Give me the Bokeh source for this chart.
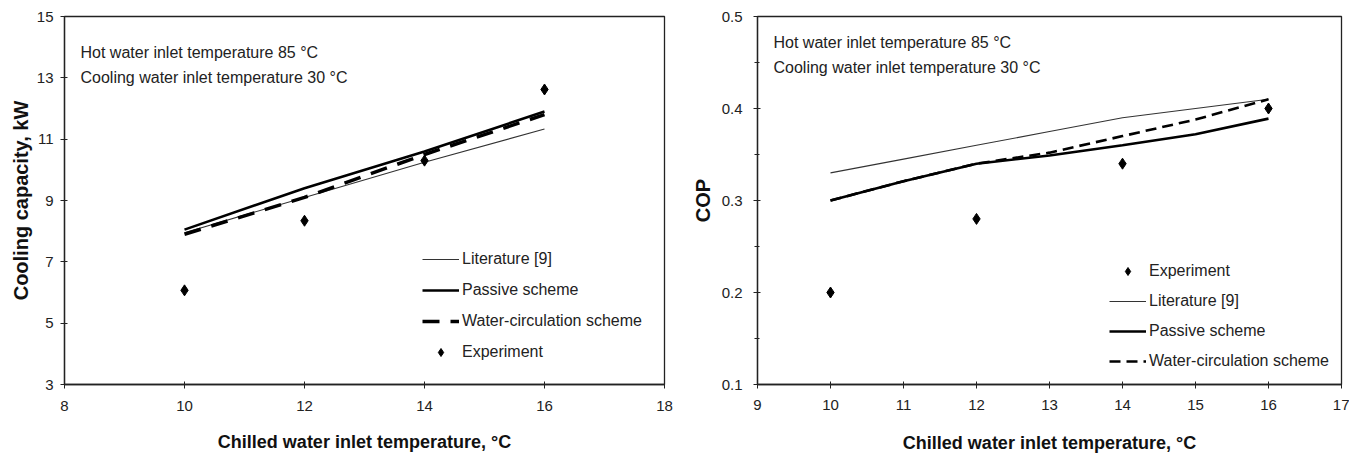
from bokeh.plotting import figure
from bokeh.layouts import row
from bokeh.models import (Range1d, FixedTicker, Legend, LegendItem, Label)
from bokeh.embed import file_html
from bokeh.resources import INLINE

# ---------------- data: cooling capacity ----------------
t_cap = [10, 12, 14, 16]
cap_literature = [7.95, 9.1, 10.25, 11.33]
cap_passive = [8.05, 9.4, 10.6, 11.9]
cap_water = [7.9, 9.1, 10.5, 11.8]
cap_experiment = [6.07, 8.34, 10.3, 12.62]
cap_xticks = [8, 10, 12, 14, 16, 18]
cap_yticks = [3, 5, 7, 9, 11, 13, 15]

# ---------------- data: COP ----------------
t_cop = [10, 11, 12, 13, 14, 15, 16]
cop_literature = [0.33, 0.345, 0.36, 0.375, 0.39, 0.40, 0.41]
cop_passive = [0.30, 0.321, 0.34, 0.349, 0.36, 0.372, 0.389]
cop_water = [0.30, 0.321, 0.34, 0.352, 0.37, 0.388, 0.41]
t_exp = [10, 12, 14, 16]
cop_experiment = [0.20, 0.28, 0.34, 0.40]
cop_xticks = [9, 10, 11, 12, 13, 14, 15, 16, 17]
cop_yticks = [0.1, 0.2, 0.3, 0.4, 0.5]
cop_yminor = [0.15, 0.25, 0.35, 0.45]

FONT = "Liberation Sans"
note1 = "Hot water inlet temperature 85 °C"
note2 = "Cooling water inlet temperature 30 °C"
xlabel = "Chilled water inlet temperature, °C"


def style(p, xt, yt, ym, tick_std_x, tick_std_y, xlab_std, ylab_std):
    p.grid.visible = False
    p.outline_line_color = "#222222"
    p.outline_line_width = 1.3
    p.background_fill_color = "white"
    p.border_fill_color = "white"
    p.xaxis.ticker = FixedTicker(ticks=xt)
    p.yaxis.ticker = FixedTicker(ticks=yt, minor_ticks=ym)
    for ax in (p.xaxis[0], p.yaxis[0]):
        ax.axis_line_color = "#222222"
        ax.axis_line_width = 1.3
        ax.major_tick_line_color = "#222222"
        ax.minor_tick_line_color = "#222222"
        ax.major_tick_in = 3
        ax.major_tick_out = 4
        ax.minor_tick_in = 2
        ax.minor_tick_out = 3
        ax.major_label_text_font = FONT
        ax.major_label_text_font_size = "15px"
        ax.major_label_text_color = "#222222"
        ax.axis_label_text_font = FONT
        ax.axis_label_text_font_style = "bold"
        ax.axis_label_text_color = "#111111"
    p.xaxis.major_label_standoff = tick_std_x
    p.yaxis.major_label_standoff = tick_std_y
    p.xaxis.axis_label_standoff = xlab_std
    p.yaxis.axis_label_standoff = ylab_std
    p.xaxis.axis_label_text_font_size = "18px"
    p.yaxis.axis_label_text_font_size = "20px"


def notes(p, x, y1, y2):
    for txt, yy in ((note1, y1), (note2, y2)):
        p.add_layout(Label(x=x, y=yy, x_units="screen", y_units="screen", text=txt,
                           text_font=FONT, text_font_size="16px", text_color="#222222",
                           text_baseline="middle"))


def legend(p, items, loc, spacing):
    lg = Legend(items=items, location=loc, orientation="vertical")
    lg.label_text_font = FONT
    lg.label_text_font_size = "16px"
    lg.label_text_color = "#222222"
    lg.glyph_width = 37
    lg.glyph_height = 20
    lg.label_height = 20
    lg.label_standoff = 3
    lg.spacing = spacing
    lg.padding = 0
    lg.margin = 0
    lg.border_line_color = None
    lg.background_fill_alpha = 0
    p.add_layout(lg, "center")


# ---------------- left chart ----------------
p1 = figure(width=688, height=456, output_backend="svg", toolbar_location=None,
            x_range=Range1d(8, 18), y_range=Range1d(3, 15),
            min_border_left=64, min_border_right=24, min_border_top=16, min_border_bottom=72)
p1.xaxis.axis_label = xlabel
p1.yaxis.axis_label = "Cooling capacity, kW"
style(p1, cap_xticks, cap_yticks, [], 12, 7, 18, 2)

r_lit = p1.line(t_cap, cap_literature, line_color="#333333", line_width=1.1)
r_pas = p1.line(t_cap, cap_passive, line_color="black", line_width=2.6)
r_wat = p1.line(t_cap, cap_water, line_color="black", line_width=3.5, line_dash="17 11")
r_exp = p1.scatter(t_cap, cap_experiment, marker="diamond", size=11, color="black")
legend(p1, [LegendItem(label="Literature [9]", renderers=[r_lit]),
            LegendItem(label="Passive scheme", renderers=[r_pas]),
            LegendItem(label="Water-circulation scheme", renderers=[r_wat]),
            LegendItem(label="Experiment", renderers=[r_exp])], (358, 22), 11)
notes(p1, 16, 332, 307)

# ---------------- right chart ----------------
p2 = figure(width=661, height=456, output_backend="svg", toolbar_location=None,
            x_range=Range1d(9, 17), y_range=Range1d(0.1, 0.5),
            min_border_left=69, min_border_right=8, min_border_top=16, min_border_bottom=72)
p2.xaxis.axis_label = xlabel
p2.yaxis.axis_label = "COP"
style(p2, cop_xticks, cop_yticks, cop_yminor, 11, 11, 20, 5)

q_exp = p2.scatter(t_exp, cop_experiment, marker="diamond", size=11, color="black")
q_lit = p2.line(t_cop, cop_literature, line_color="#333333", line_width=1.1)
q_pas = p2.line(t_cop, cop_passive, line_color="black", line_width=2.6)
q_wat = p2.line(t_cop, cop_water, line_color="black", line_width=2.6, line_dash="11 6")
legend(p2, [LegendItem(label="Experiment", renderers=[q_exp]),
            LegendItem(label="Literature [9]", renderers=[q_lit]),
            LegendItem(label="Passive scheme", renderers=[q_pas]),
            LegendItem(label="Water-circulation scheme", renderers=[q_wat])], (352, 13), 10)
notes(p2, 16, 342, 317)

layout = row(p1, p2)
open("out.html", "w").write(file_html(layout, INLINE))
